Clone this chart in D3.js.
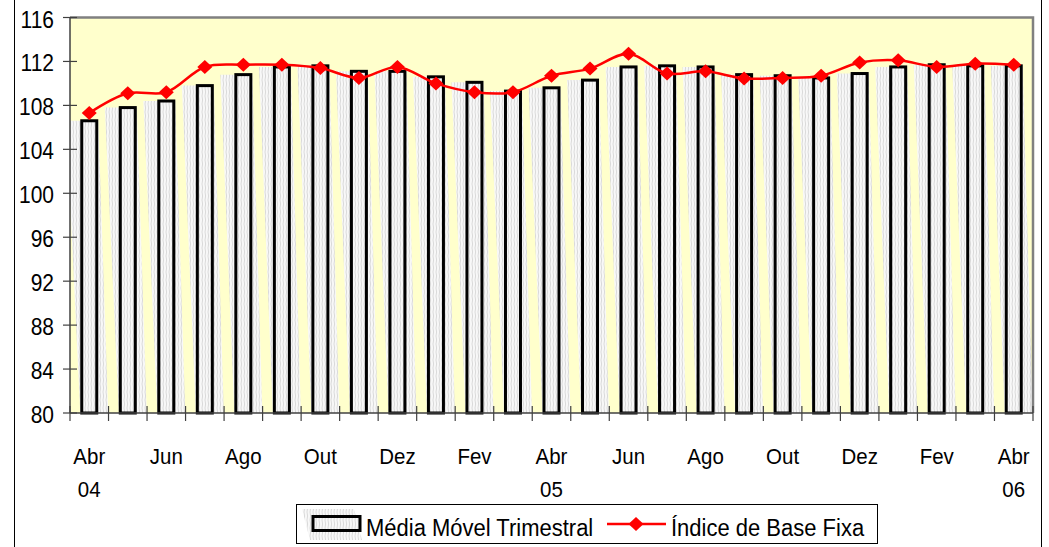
<!DOCTYPE html>
<html>
<head>
<meta charset="utf-8">
<script src="https://cdn.jsdelivr.net/npm/d3@7"></script>
<style>
  body { margin: 0; background: #ffffff; }
  text { font-family: "Liberation Sans", Arial, sans-serif; fill: #000; }
</style>
</head>
<body>
<script>
// categories (month + year) from Abr 04 to Abr 06
var categories = ["Abr 04","Mai 04","Jun 04","Jul 04","Ago 04","Set 04","Out 04","Nov 04","Dez 04",
  "Jan 05","Fev 05","Mar 05","Abr 05","Mai 05","Jun 05","Jul 05","Ago 05","Set 05","Out 05","Nov 05","Dez 05",
  "Jan 06","Fev 06","Mar 06","Abr 06"];

// Média Móvel Trimestral (bars)
var mediaMovel = [106.6,107.8,108.4,109.8,110.8,111.5,111.6,111.1,111.1,110.6,110.1,109.3,
  109.6,110.3,111.5,111.6,111.5,110.8,110.7,110.5,110.9,111.5,111.7,111.6,111.6];

// Índice de Base Fixa (line)
var indice = [107.3,109.1,109.2,111.5,111.7,111.7,111.4,110.5,111.5,110.0,109.2,109.2,
  110.7,111.35,112.7,110.9,111.1,110.45,110.5,110.7,111.9,112.1,111.5,111.8,111.7];

// y ticks
var yTicks = [80,84,88,92,96,100,104,108,112,116];

// x tick labels: [category, line 1, line 2]
var xLabels = [
  ["Abr 04","Abr","04"],["Jun 04","Jun",""],["Ago 04","Ago",""],["Out 04","Out",""],
  ["Dez 04","Dez",""],["Fev 05","Fev",""],["Abr 05","Abr","05"],["Jun 05","Jun",""],
  ["Ago 05","Ago",""],["Out 05","Out",""],["Dez 05","Dez",""],["Fev 06","Fev",""],
  ["Abr 06","Abr","06"]
];

window.onload = function(){
  var w = 1049, h = 547;
  var left = 70, right = 1033, top = 17.5, bottom = 413;

  var svg = d3.select("body").append("svg")
    .attr("width", w)
    .attr("height", h);

  // text is a bit taller than wide in the original
  var stretch = function(px, py){
    return "translate(" + px + "," + py + ") scale(1,1.12)";
  };

  // hatch pattern for the bar fill
  var defs = svg.append("defs");
  var pat = defs.append("pattern")
    .attr("id", "hatch")
    .attr("patternUnits", "userSpaceOnUse")
    .attr("width", 3).attr("height", 8);
  pat.append("rect").attr("width", 3).attr("height", 8).attr("fill", "#f8f8f8");
  pat.append("path").attr("d", "M1,0 L1.6,4 L1,8").attr("stroke", "#d6d6d6").attr("stroke-width", 0.9).attr("fill", "none");

  defs.append("clipPath").attr("id", "plotclip")
    .append("rect").attr("x", left).attr("y", top).attr("width", right - left).attr("height", bottom - top);

  // outer frame
  svg.append("line").attr("x1", 14.5).attr("x2", 14.5).attr("y1", 0).attr("y2", h)
    .attr("stroke", "#000").attr("stroke-width", 1);
  svg.append("line").attr("x1", 1041.5).attr("x2", 1041.5).attr("y1", 0).attr("y2", h)
    .attr("stroke", "#000").attr("stroke-width", 1);

  var x = d3.scaleBand().domain(categories).range([left, right]).padding(0);
  var y = d3.scaleLinear().domain([80, 116]).range([bottom, top]);
  var bw = 15;

  // plot area
  svg.append("rect")
    .attr("x", left).attr("y", top)
    .attr("width", right - left).attr("height", bottom - top)
    .attr("fill", "#ffffcc");

  var cx = function(d){ return x(d) + x.bandwidth() / 2; };

  // slanted ghost fill behind each bar
  svg.append("g").attr("clip-path", "url(#plotclip)")
    .selectAll(".ghost")
    .data(categories)
    .enter()
    .append("path")
    .attr("class", "ghost")
    .attr("fill", "url(#hatch)")
    .attr("d", function(d, i){
      var c = cx(d), t = y(mediaMovel[i]), b = y(80);
      return "M" + (c - 23) + "," + t + " L" + (c + 9) + "," + t +
        " L" + (c + 19) + "," + b + " L" + (c - 9) + "," + b + " Z";
    });

  // bars
  svg.append("g").selectAll(".bar")
    .data(categories)
    .enter()
    .append("rect")
    .attr("class", "bar")
    .attr("x", function(d){ return cx(d) - bw / 2; })
    .attr("y", function(d, i){ return y(mediaMovel[i]); })
    .attr("width", bw)
    .attr("height", function(d, i){ return y(80) - y(mediaMovel[i]); })
    .attr("fill", "url(#hatch)")
    .attr("stroke", "#000")
    .attr("stroke-width", 3);

  // plot border (top and right)
  svg.append("path")
    .attr("d", "M" + left + "," + top + " L" + right + "," + top + " L" + right + "," + bottom)
    .attr("fill", "none").attr("stroke", "#808080").attr("stroke-width", 2.5);

  // y axis
  var yAxis = svg.append("g");
  yAxis.append("line").attr("x1", left).attr("x2", left).attr("y1", top).attr("y2", bottom)
    .attr("stroke", "#404040").attr("stroke-width", 1.5);
  yAxis.selectAll(".ytick").data(yTicks).enter().append("line")
    .attr("x1", left - 7).attr("x2", left + 7)
    .attr("y1", function(d){ return y(d); }).attr("y2", function(d){ return y(d); })
    .attr("stroke", "#404040").attr("stroke-width", 1.2);
  yAxis.selectAll(".ylabel").data(yTicks).enter().append("text")
    .attr("transform", function(d){ return stretch(54, y(d) + 10); })
    .attr("text-anchor", "end")
    .style("font-size", "21px")
    .text(function(d){ return d; });

  // x axis
  var xAxis = svg.append("g");
  xAxis.append("line").attr("x1", left).attr("x2", right).attr("y1", bottom).attr("y2", bottom)
    .attr("stroke", "#404040").attr("stroke-width", 1.5);
  var edges = categories.map(function(d){ return x(d); }).concat([right]);
  xAxis.selectAll(".xtick").data(edges).enter().append("line")
    .attr("x1", function(d){ return d; }).attr("x2", function(d){ return d; })
    .attr("y1", bottom - 7).attr("y2", bottom + 8)
    .attr("stroke", "#404040").attr("stroke-width", 1.2);
  xAxis.selectAll(".xl1").data(xLabels).enter().append("text")
    .attr("transform", function(d){ return stretch(cx(d[0]), 464); })
    .attr("text-anchor", "middle").style("font-size", "20.5px")
    .text(function(d){ return d[1]; });
  xAxis.selectAll(".xl2").data(xLabels.filter(function(d){ return d[2]; })).enter().append("text")
    .attr("transform", function(d){ return stretch(cx(d[0]), 497); })
    .attr("text-anchor", "middle").style("font-size", "20.5px")
    .text(function(d){ return d[2]; });

  // line
  var line = d3.line()
    .x(function(d, i){ return cx(categories[i]); })
    .y(function(d){ return y(d); })
    .curve(d3.curveCatmullRom);
  svg.append("path").datum(indice)
    .attr("d", line)
    .attr("fill", "none").attr("stroke", "#ff0000").attr("stroke-width", 2.5);

  var diamond = "M0,-7 L7.5,0 L0,7 L-7.5,0 Z";
  svg.selectAll(".marker").data(indice).enter().append("path")
    .attr("class", "marker")
    .attr("d", diamond)
    .attr("transform", function(d, i){ return "translate(" + cx(categories[i]) + "," + y(d) + ")"; })
    .attr("fill", "#ff0000");

  // legend
  var lg = svg.append("g");
  lg.append("rect").attr("x", 296.5).attr("y", 504.5).attr("width", 581).attr("height", 39)
    .attr("fill", "#fff").attr("stroke", "#000").attr("stroke-width", 1);
  lg.append("path").attr("d", "M302,509 L354,509 L362,540 L310,540 Z").attr("fill", "url(#hatch)");
  lg.append("rect").attr("x", 313).attr("y", 516.5).attr("width", 47).attr("height", 14)
    .attr("fill", "url(#hatch)").attr("stroke", "#000").attr("stroke-width", 3);
  lg.append("text").attr("transform", stretch(366, 536)).style("font-size", "22px").text("Média Móvel Trimestral");
  lg.append("line").attr("x1", 607).attr("x2", 666).attr("y1", 524).attr("y2", 524)
    .attr("stroke", "#ff0000").attr("stroke-width", 2.5);
  lg.append("path").attr("d", diamond).attr("transform", "translate(636,524)").attr("fill", "#ff0000");
  lg.append("text").attr("transform", stretch(671, 536)).style("font-size", "22px").text("Índice de Base Fixa");
};
</script>
</body>
</html>
